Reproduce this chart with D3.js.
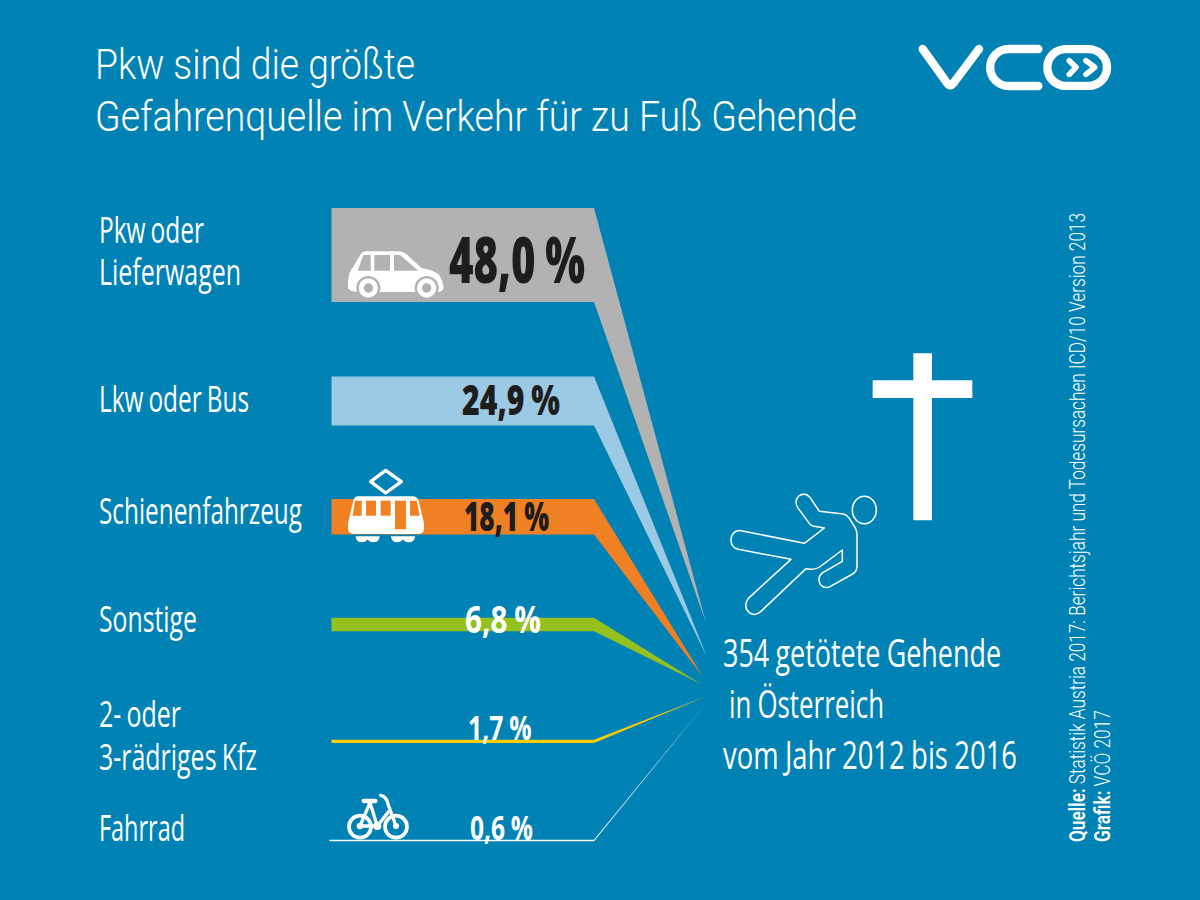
<!DOCTYPE html>
<html lang="de"><head><meta charset="utf-8">
<script src="https://cdn.jsdelivr.net/npm/d3@7/dist/d3.min.js"></script>
<style>html,body{margin:0;padding:0;background:#0082B4}svg{display:block}text{font-family:"Open Sans",sans-serif}</style>
</head><body><svg id="c" width="1200" height="900"></svg>
<script>
const categories=["Pkw oder Lieferwagen","Lkw oder Bus","Schienenfahrzeug","Sonstige","2- oder 3-rädriges Kfz","Fahrrad"];
const shares=[48.0,24.9,18.1,6.8,1.7,0.6];
const categoryLines=[["Pkw oder","Lieferwagen"],["Lkw oder Bus"],["Schienenfahrzeug"],["Sonstige"],["2- oder","3-rädriges Kfz"],["Fahrrad"]];
const titleLines=["Pkw sind die größte","Gefahrenquelle im Verkehr für zu Fuß Gehende"];
const noteLines=["354 getötete Gehende"," in Österreich","vom Jahr 2012 bis 2016"];

// layout, kept apart from the data
const colours=["#B2B2B2","#9CC9E3","#F08024","#95C11F","#FFCC00","#FFFFFF"];
const centres=[255,401,516.8,624.5,741.3,840.5];
const tips=[[706,623],[707,657],[703,677],[701,684],[707,696],[707,702]];
const labelBase=[[242.5,285],[412],[524],[632],[726.5,770],[840.5]];
const labelWidth=[[105,142],[150],[203],[98],[82,158],[86]];
const valueBox=[[449,585,283,64,"#1D1D1B",800],[462,560,415,43,"#1D1D1B",800],[464,549,531,40,"#1D1D1B",800],[465,541,633,38,"#fff",700],[468,531.5,740,34,"#fff",700],[470,533,840,34,"#fff",700]];

const svg=d3.select("#c");
svg.append("rect").attr("width",1200).attr("height",900).attr("fill","#0082B4");
const thick=d3.scaleLinear().domain([0,48]).range([0,94]);
const xBar=d3.scaleLinear().domain([0,1]).range([331.5,594]);
const pct=d3.formatLocale({decimal:",",thousands:".",grouping:[3],currency:["","€"]}).format(".1f");

function T(x,y,s,w,size,weight,fill){
  return svg.append("text").attr("x",x).attr("y",y).attr("font-size",size).attr("font-weight",weight)
    .attr("fill",fill).attr("textLength",w).attr("lengthAdjust","spacingAndGlyphs").attr("xml:space","preserve").text(s);
}
// wedges
svg.selectAll("path.wedge").data(shares).join("path").attr("class","wedge")
  .attr("fill",(d,i)=>colours[i])
  .attr("d",(d,i)=>{
    const h=Math.max(thick(d),1.5),t=centres[i]-h/2,b=centres[i]+h/2,x0=xBar(0)-(i==5?2:0),x1=xBar(1);
    return d3.line()([[x0,t],[x1,t],tips[i],[x1,b],[x0,b]])+"Z";
  });
// title
const tw=[320,762];
titleLines.forEach((s,i)=>T(95,[79,130.5][i],s,tw[i],43,300,"#fff").style("font-family","Roboto"));
// category labels
categoryLines.forEach((ls,i)=>ls.forEach((s,j)=>T(99,labelBase[i][j],s,labelWidth[i][j],37,400,"#fff").attr("word-spacing","-2")));
// icons in zoom coordinates (3x)
const icon=(x,y)=>svg.append("g").attr("transform",`translate(${x},${y}) scale(${1/3})`);
// car
const car=icon(320,200);
car.append("path").attr("fill","#fff").attr("d","M84,250Q84,218 100,200L122,163Q127,154 140,154L238,154Q250,155 262,165L305,204Q342,210 358,225Q367,240 371,262Q370,274 355,276L120,276Q90,276 84,265Z");
[[113,212,130,165,152,165,152,212],[163,165,210,165,210,212,163,212],[222,165,240,165,295,212,222,212]].forEach(p=>car.append("polygon").attr("points",p.join(" ")).attr("fill","#B2B2B2"));
[145,320].forEach(x=>{car.append("circle").attr("cx",x).attr("cy",264).attr("r",36).attr("fill","#B2B2B2");
 car.append("circle").attr("cx",x).attr("cy",264).attr("r",29).attr("fill","#fff");
 car.append("circle").attr("cx",x).attr("cy",264).attr("r",14).attr("fill","#B2B2B2");});
// tram
const tram=icon(320,460);
tram.append("polygon").attr("points","152,65 197,31 244,65 197,99").attr("fill","none").attr("stroke","#fff").attr("stroke-width",10).attr("stroke-linejoin","round");
tram.append("path").attr("fill","#fff").attr("d","M112,109L280,109Q292,110 296,122L312,190L312,205Q312,222 295,222L102,222Q84,222 84,205L84,190L100,122Q103,110 112,109Z");
[[105,122,125,122,125,167,98,167],[138,122,168,122,168,167,138,167],[182,122,212,122,212,167,182,167],[225,122,258,122,258,208,225,208],[270,122,290,122,299,167,270,167]].forEach(p=>tram.append("polygon").attr("points",p.join(" ")).attr("fill","#F08024"));
tram.append("path").attr("fill","#fff").attr("d","M107,229L179,229Q178,247 160,247Q148,247 143,238Q138,247 126,247Q108,247 107,229ZM213,229L285,229Q284,247 266,247Q254,247 249,238Q244,247 232,247Q214,247 213,229Z");
// bicycle
const bike=icon(320,780);
[120,228].forEach(x=>bike.append("circle").attr("cx",x).attr("cy",140).attr("r",33).attr("fill","none").attr("stroke","#fff").attr("stroke-width",11));
bike.append("path").attr("fill","none").attr("stroke","#fff").attr("stroke-width",10).attr("stroke-linecap","round").attr("stroke-linejoin","round")
 .attr("d","M150,68L120,138L172,138L208,92M150,68L172,138M182,46Q200,50 204,72L228,138");
bike.append("path").attr("fill","none").attr("stroke","#fff").attr("stroke-width",13).attr("stroke-linecap","round").attr("d","M131,63L166,63");
[[120,138,10],[172,138,12],[228,138,9]].forEach(c=>bike.append("circle").attr("cx",c[0]).attr("cy",c[1]).attr("r",c[2]).attr("fill","#fff"));
// value labels
shares.forEach((d,i)=>{const b=valueBox[i];T(b[0],b[2],pct(d)+" %",b[1]-b[0],b[3],b[5],b[4]).attr("word-spacing",-b[3]*0.03);});
// logo
const logo=icon(900,30);
logo.append("path").attr("fill","none").attr("stroke","#fff").attr("stroke-width",25).attr("stroke-linecap","round").attr("stroke-linejoin","round")
 .attr("d","M68,57L142,160Q151,172 160,160L237,57M415,57L326,57A55.5,55.5 0 0 0 326,168L415,168");
logo.append("rect").attr("x",442).attr("y",57.5).attr("width",179).attr("height",110).attr("rx",55).attr("fill","none").attr("stroke","#fff").attr("stroke-width",25);
logo.append("path").attr("fill","none").attr("stroke","#fff").attr("stroke-width",17).attr("stroke-linecap","round").attr("stroke-linejoin","round")
 .attr("d","M508,92L528,112L508,133M558,92L584,112L558,133");
// cross + fallen person
const fig=icon(720,340);
fig.append("path").attr("fill","#fff").attr("d","M580,40H636V121H757V174H636V541H580V174H458V121H580Z");
fig.append("path").attr("fill","none").attr("stroke","#fff").attr("stroke-width",4.5).attr("stroke-linejoin","round")
 .attr("d","M298,514L370,522Q380,524 388,535L405,562Q411,572 411,585L411,680Q410,695 398,702L330,740Q312,748 301,733Q290,712 308,698L367,664L367,630L303,678Q290,688 272,688L258,686L122,815Q105,830 88,818Q68,800 85,775L213,658L55,628Q32,622 33,597Q38,570 63,572L253,610L313,564L278,558Q272,556 268,550L233,503Q222,483 236,468Q254,455 270,472Z");
fig.append("ellipse").attr("cx",433).attr("cy",510).attr("rx",36).attr("ry",41).attr("fill","none").attr("stroke","#fff").attr("stroke-width",4.5);
// note
[[723,666.5,278],[723,717.5,161],[723,768.5,294]].forEach((p,i)=>T(p[0],p[1],noteLines[i],p[2],38,400,"#fff").attr("word-spacing","-1"));
// source
function vert(x,bold,rest,len){
  const t=svg.append("text").attr("transform",`translate(${x},842) rotate(-90)`).attr("font-size",22).attr("fill","#fff")
   .attr("textLength",len).attr("lengthAdjust","spacingAndGlyphs").style("font-family","Roboto,sans-serif");
  t.append("tspan").attr("font-weight",600).text(bold);
  t.append("tspan").attr("font-weight",300).text(rest);
}
vert(1085,"Quelle:"," Statistik Austria 2017: Berichtsjahr und Todesursachen ICD/10 Version 2013",629);
vert(1110,"Grafik:"," VCÖ 2017",132);
</script></body></html>
